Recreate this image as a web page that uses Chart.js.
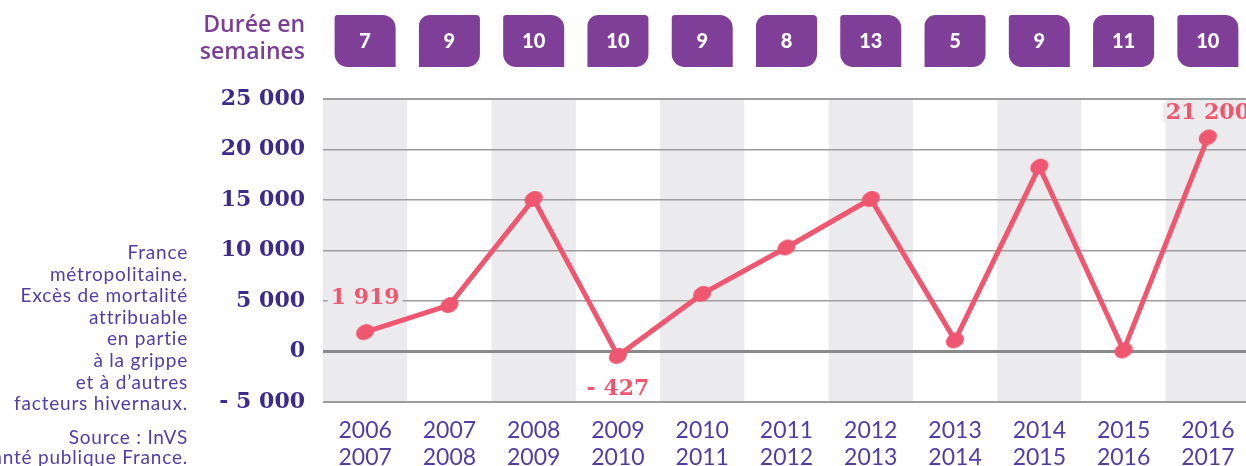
<!DOCTYPE html>
<html>
<head>
<meta charset="utf-8">
<script src="https://cdn.jsdelivr.net/npm/chart.js@4.4.1/dist/chart.umd.min.js"></script>
<style>
  html, body { margin: 0; padding: 0; background: #fff; overflow: hidden; }
  #wrap { width: 1246px; height: 466px; overflow: hidden; position: relative; }
  canvas { display: block; }
</style>
</head>
<body>
<div id="wrap">
  <canvas id="chart" width="1252" height="466"></canvas>
</div>
<script>
// Chart data
const seasons = [
  ["2006", "2007"], ["2007", "2008"], ["2008", "2009"], ["2009", "2010"],
  ["2010", "2011"], ["2011", "2012"], ["2012", "2013"], ["2013", "2014"],
  ["2014", "2015"], ["2015", "2016"], ["2016", "2017"]
];
const excessDeaths = [1919, 4600, 15100, -427, 5700, 10300, 15100, 1100, 18300, 100, 21200];
const durationWeeks = [7, 9, 10, 10, 9, 8, 13, 5, 9, 11, 10];
const yTickValues = [-5000, 0, 5000, 10000, 15000, 20000, 25000];
const yTickLabels = ["- 5 000", "0", "5 000", "10 000", "15 000", "20 000", "25 000"];
const labelledPoints = [0, 3, 10];
const labelTexts = ["1 919", "- 427", "21 200"];
const durationTitle = ["Durée en", "semaines"];
const noteLines = [
  "France", "métropolitaine.", "Excès de mortalité", "attribuable",
  "en partie", "à la grippe", "et à d’autres", "facteurs hivernaux."
];
const sourceLines = ["Source : InVS", "Santé publique France."];

const RED = "#ef5670";
const PURPLE = "#7f3f98";
const INK = "#3b2b8c";
const SOFT_INK = "#4e3ea6";
const BAND = "#ebebed";

// Tilted drop-like marker
const marker = document.createElement("canvas");
marker.width = 24;
marker.height = 24;
(function () {
  const m = marker.getContext("2d");
  m.fillStyle = RED;
  m.beginPath();
  m.ellipse(12, 12, 9.5, 7.5, -0.5, 0, Math.PI * 2);
  m.fill();
})();

function bandColor(i) {
  return i % 2 === 0 ? BAND : "#ffffff";
}

// Alternating grey column bands behind the grid
const bandsPlugin = {
  id: "bands",
  beforeDraw(chart) {
    const { ctx, chartArea, scales } = chart;
    const x = scales.x;
    const w = x.getPixelForValue(1) - x.getPixelForValue(0);
    ctx.save();
    ctx.fillStyle = BAND;
    seasons.forEach((s, i) => {
      if (i % 2 === 0) {
        const cx = x.getPixelForValue(i);
        ctx.fillRect(cx - w / 2, chartArea.top, w, chartArea.bottom - chartArea.top);
      }
    });
    ctx.restore();
  },
};

// Value labels on a few points
const valueLabelPlugin = {
  id: "valueLabels",
  afterDatasetsDraw(chart) {
    const { ctx } = chart;
    const meta = chart.getDatasetMeta(0);
    ctx.save();
    ctx.font = "bold 22px 'DejaVu Serif'";
    ctx.textAlign = "center";
    ctx.textBaseline = "middle";
    labelledPoints.forEach((idx, k) => {
      const pt = meta.data[idx];
      const v = excessDeaths[idx];
      const y = v < 0 ? pt.y + 32 : pt.y - (idx === 0 ? 35 : 25);
      const text = labelTexts[k];
      const tw = ctx.measureText(text).width;
      ctx.fillStyle = bandColor(idx);
      ctx.fillRect(pt.x - tw / 2 - 3, y - 10, tw + 6, 20);
      ctx.fillStyle = RED;
      ctx.fillText(text, pt.x, y + 1);
    });
    ctx.restore();
  },
};

// Header boxes with durations, left notes
const decorPlugin = {
  id: "decor",
  afterDraw(chart) {
    const { ctx, scales } = chart;
    const x = scales.x;
    ctx.save();

    // title
    ctx.fillStyle = "#7b3e96";
    ctx.font = "600 23px 'Open Sans'";
    ctx.textAlign = "right";
    ctx.textBaseline = "alphabetic";
    ctx.fillText(durationTitle[0], 305, 32);
    ctx.fillText(durationTitle[1], 305, 59);

    // duration boxes
    const bw = 61, bh = 52, top = 15;
    durationWeeks.forEach((d, i) => {
      const cx = x.getPixelForValue(i);
      const radii = i % 2 === 0 ? [3, 13, 0, 13] : [11, 4, 13, 0];
      ctx.fillStyle = PURPLE;
      ctx.beginPath();
      ctx.roundRect(cx - bw / 2, top, bw, bh, radii);
      ctx.fill();
      ctx.fillStyle = "#ffffff";
      ctx.font = "900 20px Lato";
      ctx.textAlign = "center";
      ctx.textBaseline = "middle";
      ctx.fillText(String(d), cx, top + bh / 2 + 1);
    });

    // notes on the left
    ctx.fillStyle = SOFT_INK;
    ctx.font = "19px Lato";
    ctx.letterSpacing = "0.8px";
    ctx.textAlign = "right";
    ctx.textBaseline = "alphabetic";
    noteLines.forEach((line, i) => {
      ctx.fillText(line, 188, 259 + i * 21.6);
    });
    sourceLines.forEach((line, i) => {
      ctx.fillText(line, 188, 444 + i * 20);
    });
    ctx.letterSpacing = "0px";

    ctx.restore();
  },
};

const ctx = document.getElementById("chart").getContext("2d");

new Chart(ctx, {
  type: "line",
  data: {
    labels: seasons,
    datasets: [
      {
        data: excessDeaths,
        borderColor: RED,
        backgroundColor: RED,
        borderWidth: 5,
        tension: 0,
        pointStyle: marker,
        pointRadius: 9,
        pointHoverRadius: 9,
      },
    ],
  },
  options: {
    responsive: false,
    animation: false,
    devicePixelRatio: 1,
    layout: {
      autoPadding: false,
      padding: { top: 99, right: 2, left: 0, bottom: 0 },
    },
    plugins: {
      legend: { display: false },
      tooltip: { enabled: false },
    },
    scales: {
      x: {
        offset: true,
        grid: { display: false, drawTicks: false },
        border: { display: false },
        afterFit(scale) {
          scale.height = 64;
          scale.paddingLeft = 0;
          scale.paddingRight = 0;
        },
        ticks: {
          color: SOFT_INK,
          maxRotation: 0,
          autoSkip: false,
          padding: 15,
          font: { family: "Lato", size: 23, lineHeight: "27px" },
        },
      },
      y: {
        min: -5000,
        max: 25000,
        afterFit(scale) {
          scale.width = 323;
        },
        afterBuildTicks(scale) {
          scale.ticks = yTickValues.map((v) => ({ value: v }));
        },
        grid: {
          drawTicks: false,
          color: (c) => (c.tick && c.tick.value === 0 ? "#8a8a8a" : "#9d9d9d"),
          lineWidth: (c) => {
            if (!c.tick) return 1.5;
            if (c.tick.value === 0) return 3;
            if (c.tick.value === 25000 || c.tick.value === -5000) return 2;
            return 1.5;
          },
        },
        border: { display: false },
        ticks: {
          color: INK,
          padding: 18,
          font: { family: "DejaVu Serif", size: 22, weight: "bold" },
          callback: function (value) {
            const i = yTickValues.indexOf(value);
            return i >= 0 ? yTickLabels[i] : "";
          },
        },
      },
    },
  },
  plugins: [bandsPlugin, valueLabelPlugin, decorPlugin],
});
</script>
</body>
</html>
